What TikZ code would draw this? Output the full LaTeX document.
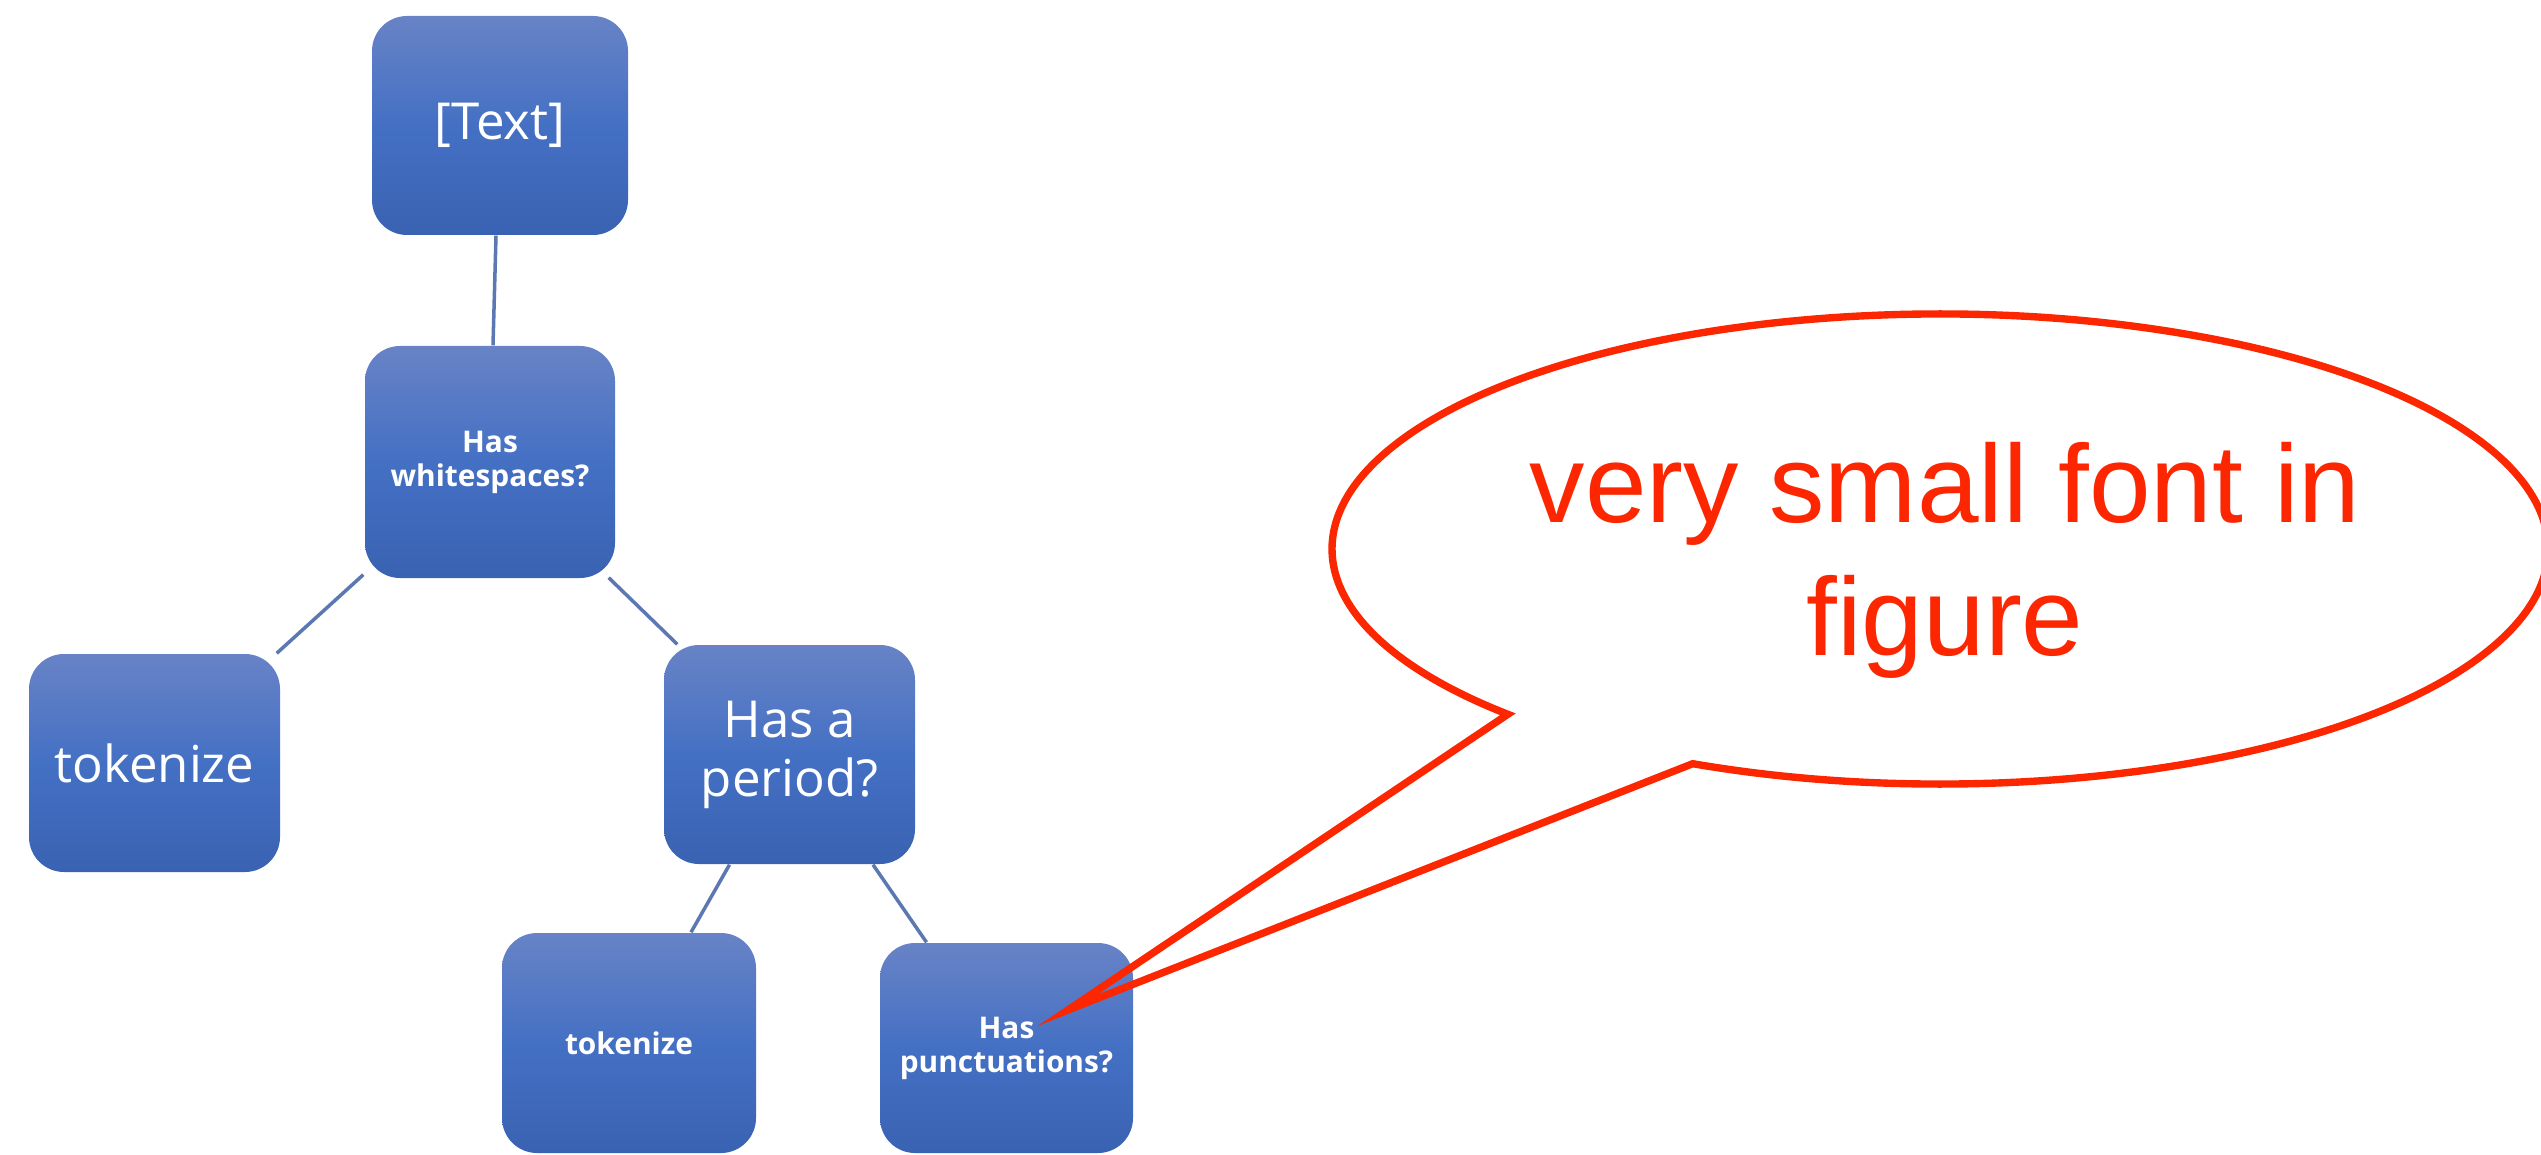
\documentclass[tikz,border=0pt]{standalone}
\usepackage{fontspec}
\setmainfont{Open Sans}
\newfontfamily\callfont{Liberation Sans}
\usetikzlibrary{calc}
\definecolor{boxtop}{RGB}{104,131,198}
\definecolor{boxmid}{RGB}{68,112,196}
\definecolor{boxbot}{RGB}{58,98,178}
\definecolor{linkc}{RGB}{92,120,178}
\definecolor{callred}{RGB}{252,38,0}
\tikzset{
  bluebox/.style={rectangle, rounded corners=0.35cm, inner sep=0pt,
    top color=boxtop, bottom color=boxbot, middle color=boxmid,
    text=white, align=center},
  bigtxt/.style={font=\fontsize{14.5}{16.8}\selectfont},
  smalltxt/.style={font=\fontsize{8.5}{9.7}\selectfont\bfseries},
  link/.style={draw=linkc, line width=1pt},
  callline/.style={draw=callred, line width=2.1pt, line join=miter}
}
\begin{document}
\begin{tikzpicture}
\clip (0,0) rectangle (25.41,11.54);
\fill[white] (0,0) rectangle (25.41,11.54);
% boxes
\node[bluebox, minimum width=2.56cm, minimum height=2.19cm, font=\fontsize{14.5}{16}\selectfont] (T) at (5.00,10.285) {[Text]};
\node[bluebox, smalltxt, minimum width=2.50cm, minimum height=2.32cm] (ws) at (4.90,6.92) {Has\\whitespaces?};
\node[bluebox, bigtxt, minimum width=2.51cm, minimum height=2.18cm] (tok1) at (1.545,3.91) {tokenize};
\node[bluebox, bigtxt, minimum width=2.51cm, minimum height=2.19cm] (per) at (7.895,3.995) {Has a\\period?};
\node[bluebox, smalltxt, minimum width=2.54cm, minimum height=2.20cm] (tok2) at (6.29,1.11) {tokenize};
\node[bluebox, smalltxt, minimum width=2.53cm, minimum height=2.10cm] (punct) at (10.065,1.06) {Has\\punctuations?};
% connectors
\draw[link] ($(T.south)+(-0.04,0)$) -- ($(ws.north)+(0.03,0)$);
\draw[link] ($(ws.south west)+(-0.01,0.04)$) -- ($(tok1.north east)+(-0.04,0)$);
\draw[link] ($(ws.south east)+(-0.07,0.01)$) -- ($(per.north west)+(0.14,0)$);
\draw[link] ($(per.south)+(-0.60,0)$) -- ($(tok2.north)+(0.62,0)$);
\draw[link] ($(per.south)+(0.835,0)$) -- ($(punct.north)+(-0.80,0)$);
% callout
\coordinate (cc) at (19.40,6.05);
\coordinate (tip) at (10.68,1.44);
\draw[callline] (cc) ++(246:6.08 and 2.35)
  arc[start angle=246, end angle=584.7, x radius=6.08, y radius=2.35]
  -- (tip) -- cycle;
\node[text=callred, anchor=base, align=center, inner sep=0pt,
  font=\callfont\fontsize{31.5}{37.7}\selectfont] (note) at (19.45,4.99)
  {very small font in\\figure};
\end{tikzpicture}
\end{document}
